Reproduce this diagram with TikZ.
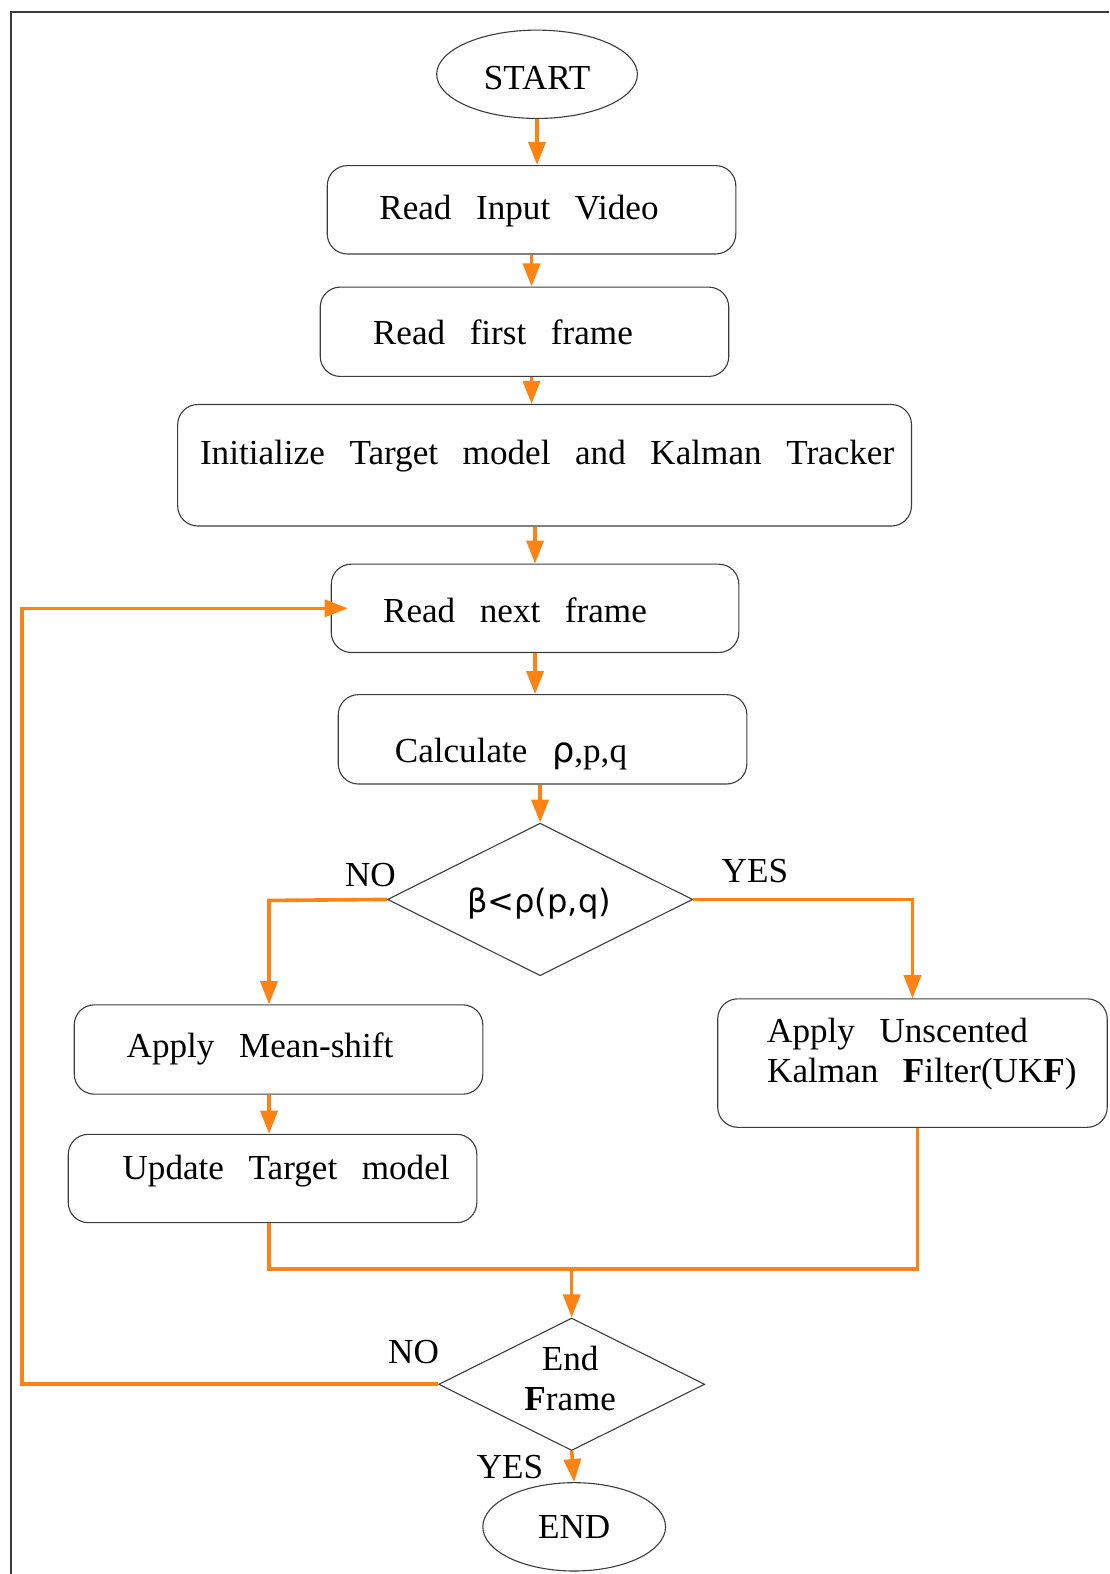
\documentclass[tikz,border=0pt]{standalone}
\usepackage{fontspec}
\setmainfont{Liberation Serif}[WordSpace=2.8]
\newfontfamily\gk{DejaVu Sans}
\usetikzlibrary{shapes.geometric,arrows.meta,calc}
\definecolor{flow}{RGB}{255,131,18}
\definecolor{edge}{RGB}{60,60,60}
\tikzset{
  every node/.style={font=\fontsize{35}{40}\selectfont, inner sep=0pt},
  box/.style={draw=edge, line width=1.1pt, rounded corners=20pt, rectangle},
  oval/.style={draw=edge, line width=1.1pt, ellipse},
  decide/.style={draw=edge, line width=1.1pt, diamond},
  conn/.style={draw=flow, line width=3.6pt},
  arr/.style={conn, -{Triangle[length=23pt,width=17pt]}},
  lbl/.style={text=black}
}
\begin{document}
\begin{tikzpicture}[x=1pt,y=-1pt]
\useasboundingbox (0,0) rectangle (1105,1568);
\draw[edge, line width=1.5pt] (11,1568) -- (11,12) -- (1105,12);

% nodes
\node[oval, minimum width=200pt, minimum height=88pt] (start) at (535,74) {};
\node[lbl] (startT) at (535,78) {START};
\node[box, minimum width=407pt, minimum height=88pt] (rin) at (529.5,209) {};
\node[lbl] (rinT) at (517,210) {Read Input Video};
\node[box, minimum width=407pt, minimum height=89pt] (rff) at (522.5,330.5) {};
\node[lbl] (rffT) at (501,331) {Read first frame};
\node[box, minimum width=731pt, minimum height=121pt] (init) at (542.5,463.5) {};
\node[lbl] (initT) at (545,454) {Initialize Target model and Kalman Tracker};
\node[box, minimum width=406pt, minimum height=88pt] (rnf) at (533,606) {};
\node[lbl] (rnfT) at (513,608) {Read next frame};
\node[box, minimum width=407pt, minimum height=89pt] (calc) at (540.5,736.5) {};
\node[lbl] (calcT) at (509,751) {Calculate {\gk ρ},p,q};
\node[decide, minimum width=304pt, minimum height=152pt] (d1) at (538,896) {};
\node[lbl, font=\gk\fontsize{32}{36}\selectfont] (d1T) at (537,900) {β<ρ(p,q)};
\node[box, minimum width=407pt, minimum height=89pt] (ms) at (277.5,1045.5) {};
\node[lbl] (msT) at (259,1045) {Apply Mean-shift};
\node[box, minimum width=407pt, minimum height=88pt] (upd) at (271.5,1174) {};
\node[lbl] (updT) at (285,1167) {Update Target model};
\node[box, minimum width=388pt, minimum height=128pt] (ukf) at (909,1059) {};
\node[lbl, anchor=west, align=left] (ukfT) at (764,1050) {Apply Unscented\\Kalman \textbf{F}ilter(UK\textbf{F})};
\node[decide, minimum width=265pt, minimum height=132pt] (d2) at (569.5,1379) {};
\node[lbl, align=center] (d2T) at (568,1373) {End\\\textbf{F}rame};
\node[oval, minimum width=182pt, minimum height=88pt] (fin) at (572,1521) {};
\node[lbl] (finT) at (572,1521) {END};

% labels
\node[lbl] (no1) at (369,872) {NO};
\node[lbl] (yes1) at (752,868) {YES};
\node[lbl] (no2) at (412,1347) {NO};
\node[lbl] (yes2) at (508,1461) {YES};

% connectors
\draw[arr] (start.south) -- (start.south |- rin.north);
\draw[arr] (rin.south) -- (rin.south |- rff.north);
\draw[arr] (rin.south |- rff.south) -- (rin.south |- init.north);
\draw[arr] (rnf.north |- init.south) -- (rnf.north);
\draw[arr] (rnf.south) -- (rnf.south |- calc.north);
\draw[arr] (d1.north |- calc.south) -- (d1.north);

\coordinate (nojoin) at (268,897);
\draw[arr] (d1.west) -- (nojoin) -- (nojoin |- ms.north);
\draw[arr] (d1.east) -| (ukf.north);
\draw[arr] (nojoin |- ms.south) -- (nojoin |- upd.north);

\coordinate (mL) at (268,1264);
\coordinate (mR) at (914,1264);
\draw[conn] (mL |- upd.south) -- (mL) -- (mR) -- (mR |- ukf.south);
\draw[arr] (d2.north |- mL) -- (d2.north);

\coordinate (loopL) at (22,1379);
\coordinate (loopEnd) at ([xshift=17pt]rnf.west);
\draw[arr] (d2.west) -- (loopL) -- (loopL |- rnf.west) -- (loopEnd);
\draw[arr] (d2.south) -- (fin.north);
\end{tikzpicture}
\end{document}
